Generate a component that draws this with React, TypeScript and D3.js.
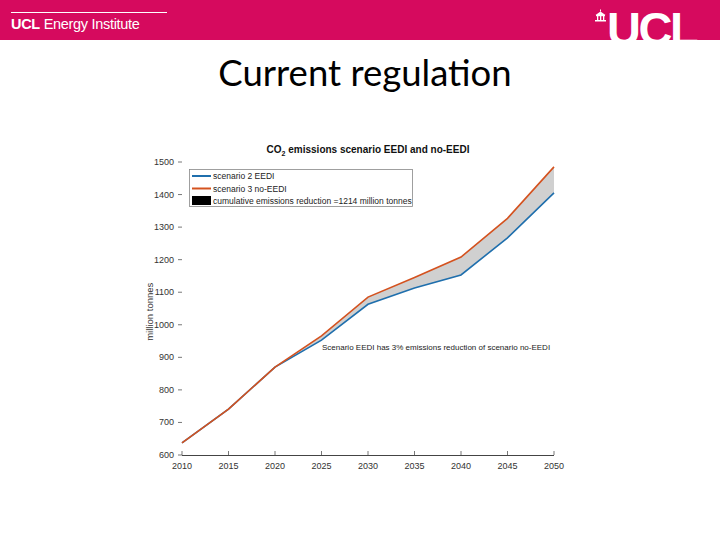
import React from "react";
import * as d3 from "d3";

const years = [2010, 2015, 2020, 2025, 2030, 2035, 2040, 2045, 2050];
const eedi = [637, 741, 870, 953, 1063, 1113, 1153, 1267, 1405];
const noEedi = [637, 741, 870, 966, 1085, 1145, 1208, 1327, 1485];
const xTicks = [2010, 2015, 2020, 2025, 2030, 2035, 2040, 2045, 2050];
const yTicks = [600, 700, 800, 900, 1000, 1100, 1200, 1300, 1400, 1500];
const legendLabels = ["scenario 2 EEDI", "scenario 3 no-EEDI", "cumulative emissions reduction =1214 million tonnes"];

const BLUE = "#1f6fad";
const ORANGE = "#d4521f";
const PINK = "#d60a5e";

export default function App() {
  const x = d3.scaleLinear().domain([2010, 2050]).range([182, 554]);
  const y = d3.scaleLinear().domain([600, 1500]).range([455, 162]);
  const idx = years.map((_, i) => i);
  const line = (vals: number[]) =>
    d3.line<number>().x((i) => x(years[i])).y((i) => y(vals[i]))(idx) || "";
  const area =
    d3
      .area<number>()
      .x((i) => x(years[i]))
      .y0((i) => y(eedi[i]))
      .y1((i) => y(noEedi[i]))(idx) || "";
  const font = "Liberation Sans, Arial, sans-serif";
  return (
    <svg
      width={720}
      height={540}
      style={{ position: "absolute", left: 0, top: 0, background: "#fff" }}
      fontFamily={font}
    >
      <rect x={0} y={0} width={720} height={540} fill="#fff" />
      {/* header band */}
      <rect x={0} y={0} width={720} height={40} fill={PINK} />
      <line x1={11} x2={167} y1={12.5} y2={12.5} stroke="#fff" strokeWidth={1} />
      <text x={11} y={28.5} fill="#fff" fontSize={14.5} letterSpacing={-0.3}>
        <tspan fontWeight="bold">UCL</tspan> Energy Institute
      </text>
      {/* UCL logo */}
      <g fill="#fff">
        <rect x={595} y={20} width={11} height={1.5} />
        <rect x={596} y={15} width={9} height={1.2} />
        <rect x={597} y={16} width={1.3} height={4} />
        <rect x={600} y={16} width={1.3} height={4} />
        <rect x={603} y={16} width={1.3} height={4} />
        <path d="M595.5 15 L600.5 11.5 L605.5 15 Z" />
        <rect x={600} y={9.5} width={1} height={2} />
      </g>
      <text x={607} y={45} fill="#fff" fontSize={47} fontWeight="bold" letterSpacing={-2.5}>
        UCL
      </text>
      <rect x={560} y={40} width={160} height={20} fill="#fff" />
      {/* slide title */}
      <text x={365} y={86} textAnchor="middle" fontSize={36.5} fill="#000" fontFamily="Lato, Open Sans, sans-serif">
        Current regulation
      </text>
      {/* chart title */}
      <text x={368} y={153} textAnchor="middle" fontSize={10} fontWeight="bold" fill="#111">
        CO<tspan fontSize={7} dy={3}>2</tspan>
        <tspan dy={-3}> emissions scenario EEDI and no-EEDI</tspan>
      </text>
      {/* y axis ticks and labels */}
      {yTicks.map((t) => (
        <g key={t}>
          <line x1={178} x2={182} y1={y(t)} y2={y(t)} stroke="#555" strokeWidth={0.8} />
          <text x={174} y={y(t) + 3} textAnchor="end" fontSize={9} fill="#333">
            {t}
          </text>
        </g>
      ))}
      <text
        transform={`translate(153,${y(1040)}) rotate(-90)`}
        textAnchor="middle"
        fontSize={9.5}
        fill="#333"
      >
        million tonnes
      </text>
      {/* x axis */}
      <line x1={x(2010)} x2={x(2050)} y1={455.5} y2={455.5} stroke="#444" strokeWidth={1} />
      {xTicks.map((t) => (
        <g key={t}>
          <line x1={x(t)} x2={x(t)} y1={455} y2={451} stroke="#555" strokeWidth={0.8} />
          <text x={x(t)} y={469} textAnchor="middle" fontSize={9} fill="#333">
            {t}
          </text>
        </g>
      ))}
      {/* area & lines */}
      <path d={area} fill="#d0d0d0" stroke="none" />
      <path d={line(eedi)} fill="none" stroke={BLUE} strokeWidth={1.6} />
      <path d={line(noEedi)} fill="none" stroke={ORANGE} strokeWidth={1.6} />
      {/* annotation */}
      <text x={322} y={350} fontSize={8} fill="#222">
        Scenario EEDI has 3% emissions reduction of scenario no-EEDI
      </text>
      {/* legend */}
      <rect x={189.5} y={169.5} width={223} height={37} fill="#fff" stroke="#888" strokeWidth={0.8} />
      <line x1={192} x2={211} y1={176} y2={176} stroke={BLUE} strokeWidth={2} />
      <line x1={192} x2={211} y1={188.5} y2={188.5} stroke={ORANGE} strokeWidth={2} />
      <rect x={192} y={196} width={19} height={9} fill="#000" />
      {legendLabels.map((l, i) => (
        <text key={l} x={213} y={179 + i * 12.5} fontSize={8.5} fill="#222">
          {l}
        </text>
      ))}
    </svg>
  );
}
